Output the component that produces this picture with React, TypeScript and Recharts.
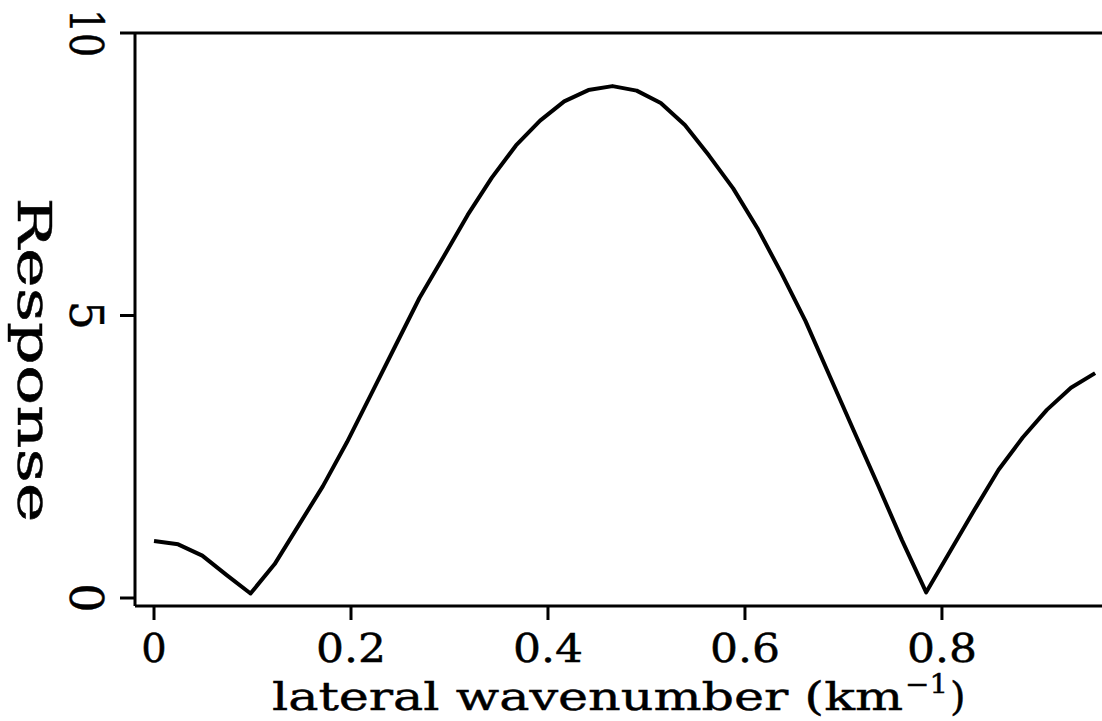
import React from "react";
import { LineChart, Line, XAxis, YAxis, ReferenceLine } from "recharts";

const WAVENUMBER = [
  0, 0.0245, 0.049, 0.0735, 0.098, 0.1225, 0.147, 0.1715, 0.196, 0.2205,
  0.245, 0.2695, 0.294, 0.3185, 0.343, 0.3675, 0.392, 0.4165, 0.441, 0.4655,
  0.49, 0.5145, 0.539, 0.5635, 0.588, 0.6125, 0.637, 0.6615, 0.686, 0.7105,
  0.735, 0.7595, 0.784, 0.8085, 0.833, 0.8575, 0.882, 0.9065, 0.931, 0.9555,
];

const RESPONSE = [
  1.01, 0.95, 0.75, 0.41, 0.08, 0.6, 1.29, 1.98, 2.76, 3.61,
  4.46, 5.31, 6.04, 6.78, 7.44, 8.01, 8.45, 8.79, 8.99, 9.06,
  8.98, 8.76, 8.37, 7.83, 7.25, 6.55, 5.75, 4.9, 3.93, 2.96,
  2.0, 1.02, 0.1, 0.83, 1.56, 2.27, 2.84, 3.33, 3.72, 3.98,
];

const X_TICKS = [0, 0.2, 0.4, 0.6, 0.8];
const Y_TICKS = [0, 5, 10];

const FONT = "'DejaVu Serif', serif";
// scanned print looks a little heavier than DejaVu regular
const INK = { fill: "#000", stroke: "#000", strokeWidth: 0.45 };

const data = WAVENUMBER.map((k, i) => ({ k, response: RESPONSE[i] }));

function XTick(props: any) {
  const { x, y, payload } = props;
  const label = payload.value === 0 ? "0" : String(payload.value);
  return (
    <text
      x={x}
      y={y + 42}
      textAnchor="middle"
      fontFamily={FONT}
      fontSize={40}
      {...INK}
      {...(label.length > 1 ? { textLength: 70, lengthAdjust: "spacingAndGlyphs" } : {})}
    >
      {label}
    </text>
  );
}

function YTick(props: any) {
  const { x, y, payload } = props;
  const label = String(payload.value);
  const bx = x - 50;
  return (
    <text
      x={bx}
      y={y}
      transform={`rotate(90 ${bx} ${y})`}
      textAnchor="middle"
      fontFamily={FONT}
      fontSize={46}
      {...INK}
      {...(label.length > 1 ? { textLength: 48, lengthAdjust: "spacingAndGlyphs" } : {})}
    >
      {label}
    </text>
  );
}

function XLabel(props: any) {
  const vb = props.viewBox || { x: 135, y: 606 };
  const x0 = vb.x + 137;
  const base = vb.y + 104;
  return (
    <g fontFamily={FONT} {...INK}>
      <text x={x0} y={base} fontSize={40} textLength={631} lengthAdjust="spacingAndGlyphs">
        lateral wavenumber (km
      </text>
      <text x={x0 + 633} y={base - 17} fontSize={26} textLength={43} lengthAdjust="spacingAndGlyphs">
        −1
      </text>
      <text x={x0 + 678} y={base} fontSize={40}>
        )
      </text>
    </g>
  );
}

function YLabel(props: any) {
  const vb = props.viewBox || { x: 0, y: 33 };
  const bx = vb.x + 18;
  const cy = vb.y + 327;
  return (
    <text
      x={bx}
      y={cy}
      transform={`rotate(90 ${bx} ${cy})`}
      textAnchor="middle"
      fontFamily={FONT}
      fontSize={46}
      {...INK}
      textLength={325}
      lengthAdjust="spacingAndGlyphs"
    >
      Response
    </text>
  );
}

export default function App() {
  return (
    <div style={{ position: "absolute", left: 0, top: 0, background: "#fff" }}>
      <LineChart width={1102} height={721} data={data} margin={{ top: 33, right: 0, bottom: 0, left: 0 }}>
        <XAxis
          dataKey="k"
          type="number"
          domain={[-0.0193, 0.9625]}
          allowDataOverflow
          ticks={X_TICKS}
          tick={<XTick />}
          tickSize={14}
          tickMargin={0}
          height={115}
          axisLine={{ stroke: "#000", strokeWidth: 3 }}
          tickLine={{ stroke: "#000", strokeWidth: 3 }}
          label={{ content: <XLabel /> }}
        />
        <YAxis
          type="number"
          domain={[-0.1416, 10]}
          allowDataOverflow
          ticks={Y_TICKS}
          tick={<YTick />}
          tickSize={15}
          tickMargin={0}
          width={135}
          axisLine={{ stroke: "#000", strokeWidth: 3 }}
          tickLine={{ stroke: "#000", strokeWidth: 3 }}
          label={{ content: <YLabel /> }}
        />
        <ReferenceLine y={10} stroke="#000" strokeWidth={3} />
        <Line
          type="linear"
          dataKey="response"
          stroke="#000"
          strokeWidth={4}
          strokeLinejoin="round"
          dot={false}
          isAnimationActive={false}
        />
      </LineChart>
    </div>
  );
}
